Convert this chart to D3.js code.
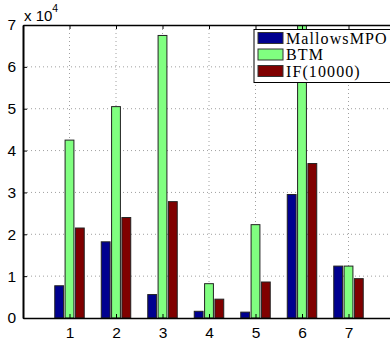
<!DOCTYPE html>
<html>
<head>
<meta charset="utf-8">
<script src="https://cdn.jsdelivr.net/npm/d3@7"></script>
<style>
  body { margin: 0; background: #fff; }
  svg { display: block; }
</style>
</head>
<body>
<div id="chart"></div>
<script>
// values in units of 10^4
const groups = [1, 2, 3, 4, 5, 6, 7]
const seriesNames = ["MallowsMPO", "BTM", "IF(10000)"]
const mallows = [0.77, 1.82, 0.56, 0.16, 0.14, 2.95, 1.24]
const btm = [4.25, 5.05, 6.75, 0.82, 2.23, 7.3, 1.24]
const ifVals = [2.15, 2.40, 2.78, 0.45, 0.86, 3.69, 0.94]
const yTicks = [0, 1, 2, 3, 4, 5, 6, 7]
const colors = ["#00008f", "#80ff80", "#800000"]

const W = 390, H = 343
const plot = { left: 23, top: 25, right: 395, bottom: 318 }

const svg = d3.select("#chart").append("svg")
    .attr("width", W)
    .attr("height", H)

const x = d3.scaleLinear().domain([0, 8]).range([plot.left, plot.right])
const y = d3.scaleLinear().domain([0, 7]).range([plot.bottom, plot.top])

svg.append("defs").append("clipPath").attr("id", "clip")
   .append("rect")
   .attr("x", plot.left).attr("y", plot.top)
   .attr("width", plot.right - plot.left).attr("height", plot.bottom - plot.top)

// dotted grid
const grid = svg.append("g")
grid.selectAll("line.h")
    .data(yTicks.slice(1, -1))
    .enter().append("line")
    .attr("x1", plot.left).attr("x2", plot.right)
    .attr("y1", d => y(d)).attr("y2", d => y(d))
    .attr("stroke", "#888").attr("stroke-width", 0.8)
    .attr("stroke-dasharray", "1,3")
grid.selectAll("line.v")
    .data(groups)
    .enter().append("line")
    .attr("x1", d => x(d)).attr("x2", d => x(d))
    .attr("y1", plot.top).attr("y2", plot.bottom)
    .attr("stroke", "#888").attr("stroke-width", 0.8)
    .attr("stroke-dasharray", "1,3")

// bars
const series = [mallows, btm, ifVals]
const barW = 0.19, step = 0.222
const data = []
series.forEach((vals, s) => vals.forEach((v, i) => data.push({ s, g: groups[i], v })))

svg.append("g").attr("clip-path", "url(#clip)")
   .selectAll("rect")
   .data(data)
   .enter().append("rect")
   .attr("x", d => x(d.g + (d.s - 1) * step - barW / 2))
   .attr("width", x(barW) - x(0))
   .attr("y", d => y(d.v))
   .attr("height", d => y(0) - y(d.v))
   .attr("fill", d => colors[d.s])
   .attr("stroke", "#222").attr("stroke-width", 1)

// axes
const xAxis = d3.axisBottom(x).tickValues(groups).tickSize(-4).tickPadding(9).tickSizeOuter(0)
const gx = svg.append("g").attr("transform", `translate(0,${plot.bottom})`).call(xAxis)
gx.select(".domain").attr("stroke", "#000").attr("stroke-width", 1.5)

const xTop = d3.axisTop(x).tickValues(groups).tickSize(-4).tickFormat("").tickSizeOuter(0)
const gt = svg.append("g").attr("transform", `translate(0,${plot.top})`).call(xTop)
gt.select(".domain").attr("stroke", "#000").attr("stroke-width", 1.5)

const yAxis = d3.axisLeft(y).tickValues(yTicks).tickFormat(d3.format("d"))
    .tickSize(-4).tickPadding(7).tickSizeOuter(0)
const gy = svg.append("g").attr("transform", `translate(${plot.left},0)`).call(yAxis)
gy.select(".domain").attr("stroke", "#000").attr("stroke-width", 2)

svg.selectAll(".tick text")
   .attr("font-family", "Liberation Sans, Arial, sans-serif")
   .attr("font-size", 15.5)
   .attr("fill", "#000")
svg.selectAll(".tick line").attr("stroke", "#000")

// exponent label
const expo = svg.append("text")
    .attr("x", 24).attr("y", 21)
    .attr("font-family", "Liberation Sans, Arial, sans-serif")
    .attr("font-size", 15)
expo.append("tspan").text("x 10")
expo.append("tspan").attr("dy", -9).attr("font-size", 10.5).text("4")

// legend
const leg = svg.append("g").attr("transform", "translate(254,29.5)")
leg.append("rect")
   .attr("width", 150).attr("height", 53)
   .attr("fill", "#fff").attr("stroke", "#000").attr("stroke-width", 1)
const rows = leg.selectAll("g.row")
    .data(seriesNames)
    .enter().append("g")
    .attr("transform", (d, i) => `translate(4,${3 + i * 16.5})`)
rows.append("rect")
    .attr("width", 25).attr("height", 11)
    .attr("fill", (d, i) => colors[i])
    .attr("stroke", "#333").attr("stroke-width", 1)
rows.append("text")
    .attr("x", 28).attr("y", 11)
    .attr("font-family", "Liberation Serif, DejaVu Serif, serif")
    .attr("font-size", 16)
    .attr("letter-spacing", 1.1)
    .text(d => d)
</script>
</body>
</html>
